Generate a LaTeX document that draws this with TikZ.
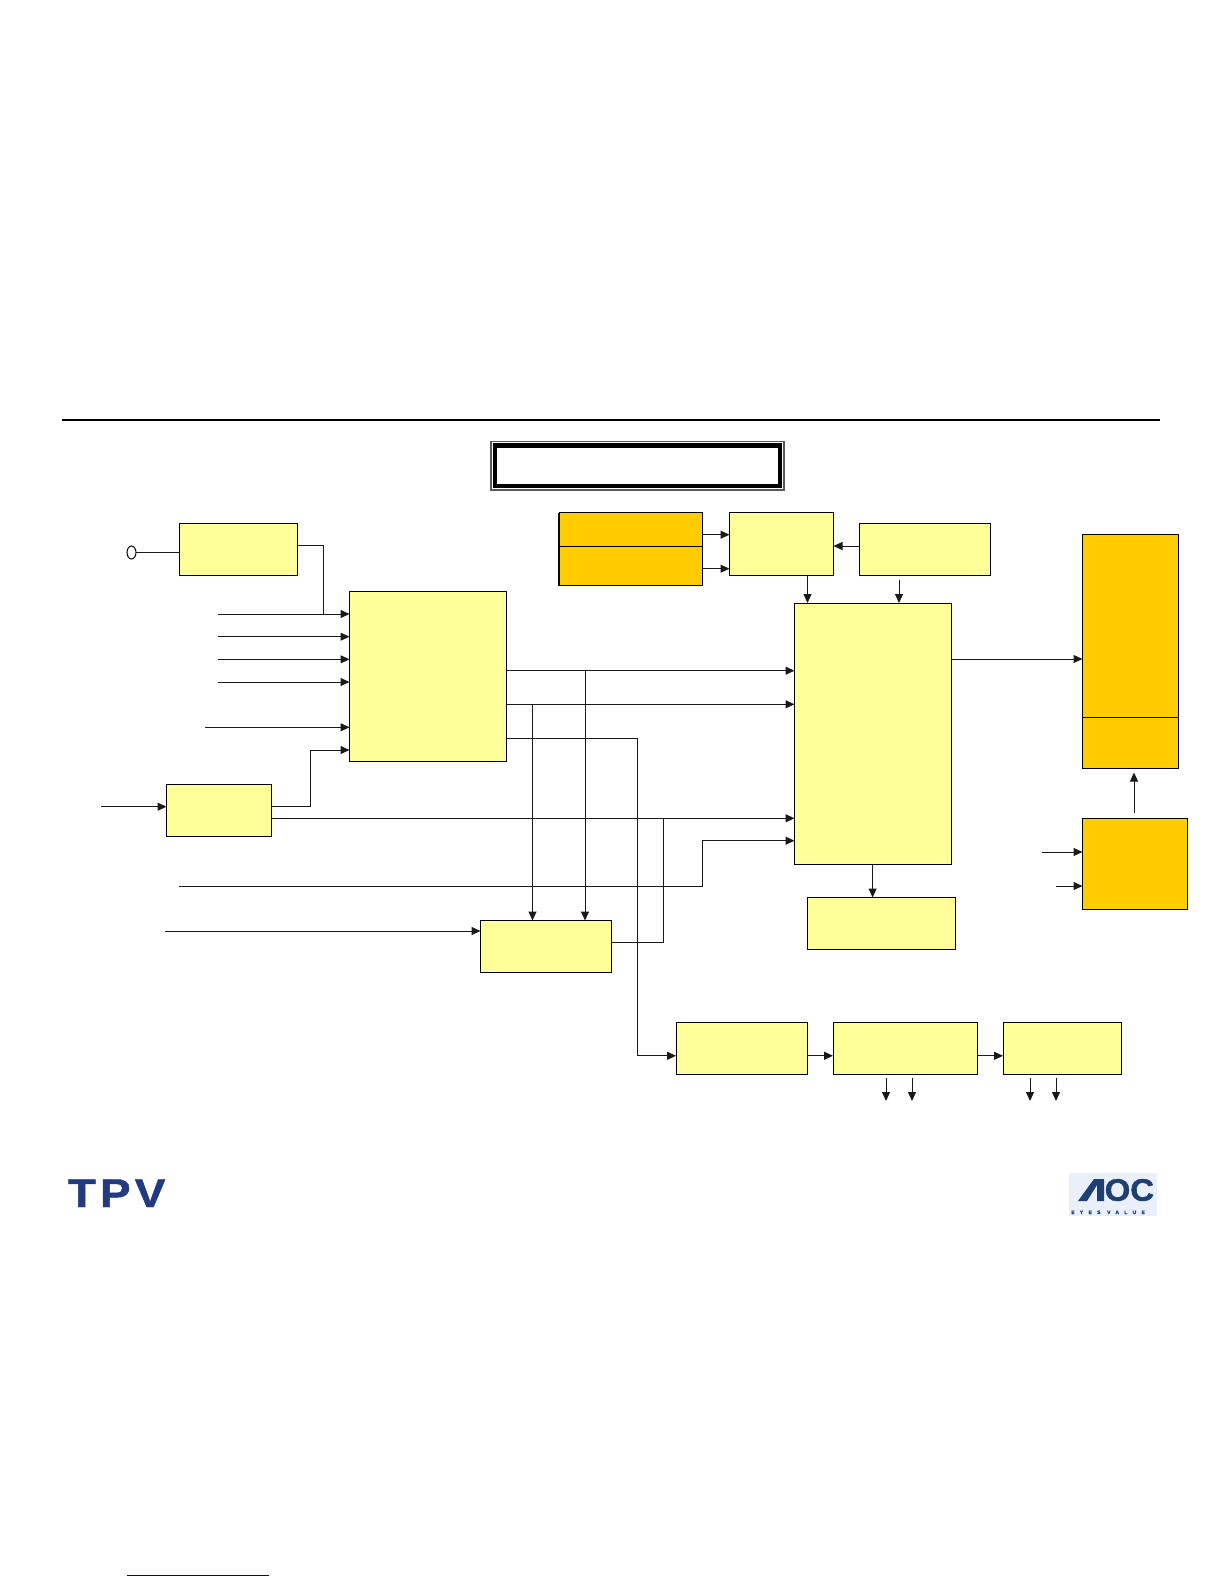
\documentclass[tikz,border=0pt]{standalone}
\usepackage{fontspec}
\setmainfont{Liberation Sans}
\usetikzlibrary{arrows.meta,calc,shapes.geometric}
\definecolor{paleY}{HTML}{FFFF99}
\definecolor{goldY}{HTML}{FFCC00}
\definecolor{lineK}{HTML}{1A1A1A}
\definecolor{tpvB}{HTML}{223A80}
\definecolor{aocB}{HTML}{1D3F73}
\definecolor{aocBg}{HTML}{EAF0F9}
\tikzset{
  base box/.style={draw=black,line width=1pt,inner sep=0pt,outer sep=0pt,rectangle},
  pale/.style={base box,fill=paleY},
  gold/.style={base box,fill=goldY},
  wire/.style={draw=lineK,line width=1pt},
  arr/.style={wire,-{Triangle[length=9pt,width=8pt]}},
  x=1pt,y=-1pt
}
\newcommand{\bx}[6]{%
  \pgfmathsetmacro\bw{#4-#2}\pgfmathsetmacro\bh{#5-#3}%
  \pgfmathsetmacro\cx{(#2+#4)/2}\pgfmathsetmacro\cy{(#3+#5)/2}%
  \node[#1,minimum width=\bw pt,minimum height=\bh pt] (#6) at (\cx,\cy) {};}
\begin{document}
\begin{tikzpicture}
\useasboundingbox (0,0) rectangle (1224,1584);
\fill[white] (0,0) rectangle (1224,1584);
% header rule
\coordinate (ruleL) at (62,419.5);
\coordinate (ruleR) at (1159.5,419.5);
\draw[black,line width=2pt] (ruleL) -- (ruleR);
% title frame
\bx{draw=gray!70!black,line width=1.2pt,inner sep=0pt,outer sep=0pt,fill=white}{491}{441.5}{784}{490}{titleOut}
\bx{draw=black,line width=4.6pt,inner sep=0pt,outer sep=0pt,fill=white}{495}{445.5}{780}{486}{titleIn}
% boxes
\bx{pale}{179.5}{523.5}{297.5}{575.5}{adp}
\bx{pale}{349.5}{591.5}{506.5}{761.5}{scaler}
\bx{pale}{166.5}{784.5}{271.5}{836.5}{vga}
\bx{pale}{480.5}{920.5}{611.5}{972.5}{cbox}
\bx{pale}{794.5}{603}{951.5}{864.5}{mcu}
\bx{pale}{807.5}{897.5}{955.5}{949.5}{sbox}
\bx{pale}{729.5}{512.5}{833.5}{575.5}{dbox}
\bx{pale}{859.5}{523.5}{990}{575.5}{ebox}
\bx{pale}{676}{1022}{807}{1074}{fbox}
\bx{pale}{833}{1022}{977.5}{1074}{gbox}
\bx{pale}{1003}{1022}{1121}{1074}{hbox}
\bx{gold}{559}{512.5}{702.5}{546.5}{oa}
\bx{gold}{559}{546.5}{702.5}{585.5}{ob}
\draw[black,line width=1.6pt] (oa.north west) -- (ob.south west);
\bx{gold}{1082.5}{534.5}{1178.5}{717}{pa}
\bx{gold}{1082.5}{717}{1178.5}{768}{pb}
\bx{gold}{1082.5}{818}{1187}{909}{inv}
% jack
\node[draw=black,fill=white,line width=1pt,ellipse,minimum width=9pt,minimum height=13pt,inner sep=0pt,outer sep=0pt] (jack) at (131.5,552.5) {};
\draw[wire] (jack.east) -- (jack.east -| adp.west);
% adapter into scaler
\coordinate (i1) at (218,614);
\coordinate (i2) at (218,636.7);
\coordinate (i3) at (218,659.3);
\coordinate (i4) at (218,682);
\coordinate (i5) at (205,727.3);
\coordinate (jA) at (323.5,545.7);
\draw[wire] (jA -| adp.east) -- (jA) -- (jA |- i1);
\draw[arr] (i1) -- (i1 -| scaler.west);
\draw[arr] (i2) -- (i2 -| scaler.west);
\draw[arr] (i3) -- (i3 -| scaler.west);
\draw[arr] (i4) -- (i4 -| scaler.west);
\draw[arr] (i5) -- (i5 -| scaler.west);
% vga
\coordinate (v0) at (101,806.7);
\draw[arr] (v0) -- (v0 -| vga.west);
\coordinate (v1) at (310.5,806.5);
\coordinate (v2) at (310.5,750);
\draw[arr] (v1 -| vga.east) -- (v1) -- (v2) -- (v2 -| scaler.west);
\coordinate (v3) at (663.5,818.3);
\draw[arr] (v3 -| vga.east) -- (v3 -| mcu.west);
% scaler outputs
\coordinate (s1) at (585,670.7);
\coordinate (s2) at (532.5,704.3);
\coordinate (s3) at (637.5,738.3);
\draw[arr] (s1 -| scaler.east) -- (s1 -| mcu.west);
\draw[arr] (s2 -| scaler.east) -- (s2 -| mcu.west);
\draw[arr] (s1) -- (s1 |- cbox.north);
\draw[arr] (s2) -- (s2 |- cbox.north);
\coordinate (s4) at (637.5,1055.8);
\draw[arr] (s3 -| scaler.east) -- (s3) -- (s4) -- (s4 -| fbox.west);
% long line
\coordinate (l1) at (179,886);
\coordinate (l2) at (702.5,886);
\coordinate (l3) at (702.5,840.7);
\draw[arr] (l1) -- (l2) -- (l3) -- (l3 -| mcu.west);
% c box
\coordinate (c0) at (165,931);
\draw[arr] (c0) -- (c0 -| cbox.west);
\coordinate (c1) at (663.5,942.3);
\draw[wire] (c1 -| cbox.east) -- (c1) -- (v3);
% top row
\coordinate (t1) at (702.5,534.7);
\coordinate (t2) at (702.5,568.7);
\draw[arr] (t1) -- (t1 -| dbox.west);
\draw[arr] (t2) -- (t2 -| dbox.west);
\coordinate (t3) at (859.5,546);
\draw[arr] (t3) -- (t3 -| dbox.east);
\coordinate (t4) at (807.5,575.5);
\draw[arr] (t4) -- (t4 |- mcu.north);
\coordinate (t5) at (899,579.5);
\draw[arr] (t5) -- (t5 |- mcu.north);
% mcu outputs
\coordinate (m1) at (951.5,659);
\draw[arr] (m1) -- (m1 -| pa.west);
\coordinate (m2) at (872.6,864.5);
\draw[arr] (m2) -- (m2 |- sbox.north);
% inverter
\coordinate (n1) at (1134,813);
\coordinate (n1e) at (1134,772.5);
\draw[arr] (n1) -- (n1e);
\coordinate (n2) at (1042,852);
\coordinate (n3) at (1056,886);
\draw[arr] (n2) -- (n2 -| inv.west);
\draw[arr] (n3) -- (n3 -| inv.west);
% bottom chain
\coordinate (b1) at (807,1055.8);
\coordinate (b2) at (977.5,1055.8);
\draw[arr] (b1) -- (b1 -| gbox.west);
\draw[arr] (b2) -- (b2 -| hbox.west);
\foreach \n/\xx in {d1/886,d2/912,d3/1030,d4/1056}{
  \coordinate (\n) at (\xx,1078);
  \coordinate (\n e) at (\xx,1101);
  \draw[arr] (\n) -- (\n e);
}
% link rule
\coordinate (linkL) at (127,1575);
\coordinate (linkR) at (269,1575);
\draw[draw=blue!55!black,line width=1pt] (linkL) -- (linkR);
% logos
\node[anchor=base west,inner sep=0pt,text=tpvB,xscale=1.15] (tpv) at (67.5,1207)
  {\fontsize{40}{40}\selectfont\bfseries\addfontfeature{FakeBold=1,LetterSpace=9}TPV};
\node[fill=aocBg,inner sep=0pt,minimum width=88pt,minimum height=43pt] (aocbg) at (1113,1194.5) {};
\fill[aocB] (1078,1201) -- (1094,1179) -- (1104,1179) -- (1104,1201) -- (1097,1201) -- (1097,1185) -- (1087,1201) -- cycle;
\node[anchor=base west,inner sep=0pt,text=aocB,xscale=1.06] (aocT) at (1104.5,1200.7)
  {\fontsize{31}{31}\selectfont\bfseries\addfontfeature{FakeBold=1.5}OC};
\node[anchor=base west,inner sep=0pt,text=aocB] (aocS) at (1071,1214)
  {\fontsize{5}{5}\selectfont\bfseries\addfontfeature{LetterSpace=106,FakeBold=1}EYES VALUE};
\end{tikzpicture}
\end{document}
